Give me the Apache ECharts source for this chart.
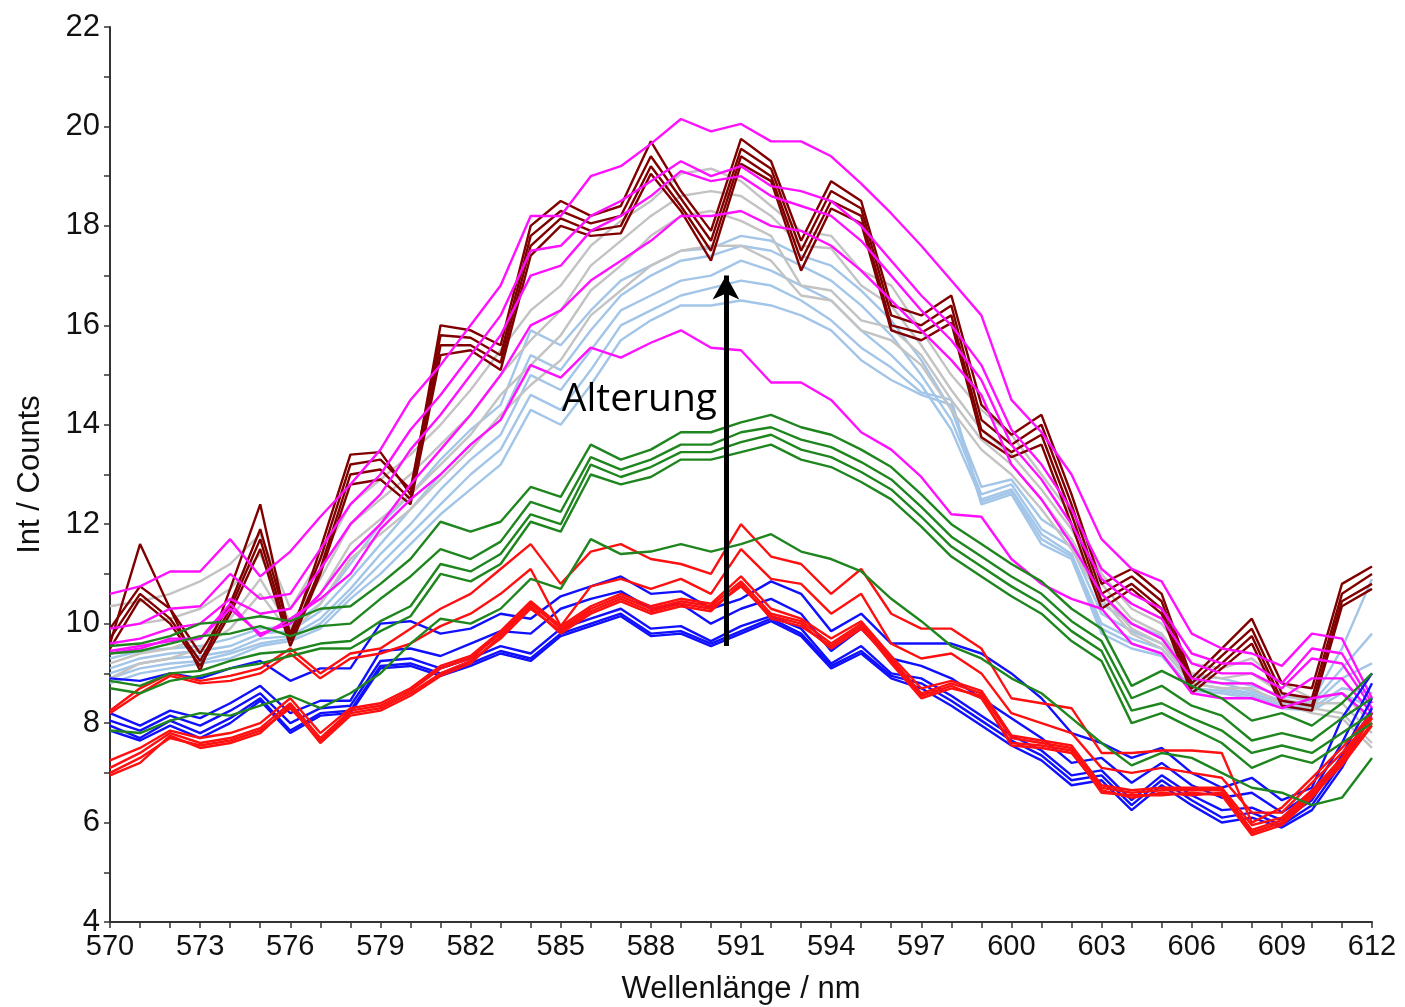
<!DOCTYPE html>
<html>
<head>
<meta charset="utf-8">
<title>Alterung</title>
<script src="https://cdn.jsdelivr.net/npm/echarts@6/dist/echarts.min.js"></script>
<style>
  html, body { margin: 0; padding: 0; background: #fff; }
  #chart { width: 1405px; height: 1007px; }
</style>
</head>
<body>
<div id="chart"></div>
<script>
  // wavelengths 570..612 nm, one value per nm
  const wavelengths = [
    570, 571, 572, 573, 574, 575, 576, 577, 578, 579, 580,
    581, 582, 583, 584, 585, 586, 587, 588, 589, 590,
    591, 592, 593, 594, 595, 596, 597, 598, 599, 600,
    601, 602, 603, 604, 605, 606, 607, 608, 609, 610, 611, 612
  ];

  const blue1 = [8.9, 8.85, 9.0, 8.9, 9.1, 9.25, 8.85, 9.1, 9.1, 10.0, 10.05,
    9.8, 9.9, 10.2, 10.1, 10.55, 10.75, 10.95, 10.6, 10.65, 10.3,
    10.5, 10.85, 10.6, 9.85, 10.2, 9.6, 9.6, 9.6, 9.4, 9.0,
    8.5, 7.8, 7.6, 7.3, 7.5, 7.0, 6.7, 6.9, 6.45, 6.7, 8.1, 9.0];
  const blue2 = [8.2, 7.95, 8.25, 8.1, 8.4, 8.75, 8.2, 8.45, 8.45, 9.45, 9.5,
    9.35, 9.6, 9.85, 9.8, 10.3, 10.5, 10.65, 10.3, 10.4, 10.0,
    10.3, 10.5, 10.2, 9.45, 9.9, 9.3, 9.15, 8.9, 8.5, 8.1,
    7.7, 7.2, 7.3, 6.8, 7.2, 6.75, 6.5, 6.6, 6.2, 6.6, 7.6, 8.8];
  const blue3 = [8.05, 7.85, 8.15, 7.95, 8.25, 8.6, 8.0, 8.3, 8.35, 9.25, 9.3,
    9.1, 9.3, 9.55, 9.4, 9.9, 10.1, 10.3, 9.9, 9.95, 9.65,
    9.95, 10.15, 9.9, 9.2, 9.55, 9.0, 8.9, 8.55, 8.15, 7.75,
    7.45, 6.95, 7.05, 6.45, 6.95, 6.55, 6.25, 6.3, 6.05, 6.45, 7.35, 8.5];
  const blue4 = [7.95, 7.7, 8.05, 7.8, 8.1, 8.5, 7.85, 8.2, 8.25, 9.15, 9.2,
    9.0, 9.2, 9.45, 9.3, 9.8, 10.0, 10.2, 9.8, 9.85, 9.6,
    9.85, 10.1, 9.8, 9.15, 9.45, 8.95, 8.8, 8.45, 8.05, 7.65,
    7.35, 6.85, 6.95, 6.35, 6.85, 6.45, 6.1, 6.2, 5.95, 6.35, 7.2, 8.3];
  const blue5 = [7.85, 7.65, 7.95, 7.7, 8.0, 8.45, 7.8, 8.15, 8.2, 9.1, 9.15,
    8.95, 9.15, 9.4, 9.25, 9.75, 9.95, 10.15, 9.75, 9.8, 9.55,
    9.8, 10.05, 9.75, 9.1, 9.4, 8.9, 8.7, 8.35, 7.95, 7.55,
    7.25, 6.75, 6.85, 6.25, 6.75, 6.35, 6.0, 6.1, 5.9, 6.25, 7.1, 8.2];

  const red1 = [8.25, 8.7, 9.0, 8.85, 8.95, 9.1, 9.5, 9.0, 9.4, 9.5, 9.9,
    10.3, 10.6, 11.1, 11.6, 10.8, 11.45, 11.6, 11.3, 11.2, 11.0,
    12.0, 11.35, 11.2, 10.6, 11.1, 10.2, 9.9, 9.9, 9.5, 8.5,
    8.4, 8.3, 7.4, 7.4, 7.45, 7.45, 7.4, 6.0, 6.3, 6.9, 7.5, 8.2];
  const red2 = [8.2, 8.6, 8.95, 8.8, 8.85, 9.0, 9.4, 8.9, 9.3, 9.4, 9.6,
    9.95, 10.2, 10.6, 11.1, 9.95, 10.75, 10.9, 10.7, 10.9, 10.6,
    11.5, 10.9, 10.8, 10.2, 10.6, 9.6, 9.3, 9.4, 9.0, 8.2,
    8.0, 7.8, 7.1, 7.0, 7.1, 7.0, 6.9, 6.2, 6.2, 6.8, 7.4, 8.1];
  const red3 = [7.25, 7.5, 7.85, 7.7, 7.8, 8.0, 8.5, 7.8, 8.3, 8.4, 8.7,
    9.15, 9.35, 9.85, 10.45, 9.95, 10.35, 10.6, 10.35, 10.5, 10.4,
    10.95, 10.3, 10.1, 9.7, 10.05, 9.35, 8.7, 8.85, 8.65, 7.75,
    7.65, 7.55, 6.75, 6.65, 6.7, 6.7, 6.7, 5.95, 6.1, 6.65, 7.3, 8.2];
  const red4 = [7.1, 7.4, 7.8, 7.6, 7.7, 7.9, 8.4, 7.7, 8.25, 8.35, 8.65,
    9.1, 9.3, 9.8, 10.4, 9.9, 10.3, 10.55, 10.3, 10.45, 10.35,
    10.85, 10.2, 10.05, 9.6, 10.0, 9.3, 8.6, 8.8, 8.6, 7.7,
    7.6, 7.5, 6.7, 6.6, 6.65, 6.65, 6.65, 5.85, 6.05, 6.6, 7.25, 8.1];
  const red5 = [7.0, 7.3, 7.7, 7.55, 7.65, 7.85, 8.3, 7.65, 8.2, 8.3, 8.6,
    9.0, 9.25, 9.7, 10.3, 9.85, 10.25, 10.5, 10.25, 10.4, 10.3,
    10.75, 10.15, 10.0, 9.5, 9.9, 9.25, 8.55, 8.75, 8.5, 7.6,
    7.55, 7.45, 6.6, 6.55, 6.55, 6.6, 6.55, 5.75, 5.95, 6.5, 7.2, 8.0];
  const red6 = [6.95, 7.2, 7.75, 7.5, 7.6, 7.8, 8.35, 7.6, 8.15, 8.25, 8.55,
    8.95, 9.2, 9.75, 10.35, 9.8, 10.2, 10.45, 10.2, 10.35, 10.25,
    10.8, 10.1, 9.95, 9.55, 9.95, 9.2, 8.5, 8.7, 8.55, 7.55,
    7.5, 7.4, 6.65, 6.5, 6.6, 6.55, 6.6, 5.8, 6.0, 6.55, 7.15, 7.95];

  const green1 = [9.55, 9.6, 9.75, 10.0, 10.05, 10.15, 10.05, 10.3, 10.35, 10.8, 11.3,
    12.05, 11.85, 12.05, 12.75, 12.55, 13.6, 13.3, 13.5, 13.85, 13.85,
    14.05, 14.2, 13.95, 13.8, 13.5, 13.15, 12.6, 12.0, 11.6, 11.2,
    10.85, 10.3, 9.9, 8.75, 9.05, 8.75, 8.5, 8.05, 8.2, 7.95, 8.4, 9.0];
  const green2 = [9.4, 9.45, 9.6, 9.75, 9.8, 9.95, 9.75, 9.95, 10.0, 10.5, 10.95,
    11.5, 11.3, 11.65, 12.45, 12.25, 13.35, 13.1, 13.3, 13.6, 13.6,
    13.85, 13.95, 13.7, 13.55, 13.25, 12.9, 12.35, 11.75, 11.35, 10.95,
    10.6, 10.05, 9.65, 8.5, 8.75, 8.35, 8.15, 7.65, 7.8, 7.65, 8.1, 8.5];
  const green3 = [8.85, 8.75, 9.0, 9.05, 9.25, 9.4, 9.45, 9.6, 9.65, 10.05, 10.35,
    11.2, 11.05, 11.4, 12.2, 12.0, 13.2, 12.95, 13.15, 13.45, 13.45,
    13.65, 13.8, 13.5, 13.35, 13.05, 12.7, 12.15, 11.55, 11.15, 10.75,
    10.4, 9.85, 9.45, 8.25, 8.4, 8.1, 7.85, 7.4, 7.55, 7.4, 7.8, 8.2];
  const green4 = [8.7, 8.6, 8.85, 8.95, 9.1, 9.2, 9.35, 9.5, 9.5, 9.85, 10.15,
    11.0, 10.85, 11.2, 12.05, 11.85, 13.0, 12.8, 12.95, 13.3, 13.3,
    13.45, 13.6, 13.3, 13.15, 12.85, 12.5, 11.95, 11.35, 10.95, 10.55,
    10.2, 9.65, 9.25, 8.0, 8.2, 7.9, 7.6, 7.1, 7.35, 7.2, 7.6, 8.0];
  const green5 = [7.85, 7.8, 8.05, 8.2, 8.15, 8.35, 8.55, 8.3, 8.6, 9.0, 9.6,
    10.1, 10.0, 10.3, 10.9, 10.7, 11.7, 11.4, 11.45, 11.6, 11.45,
    11.6, 11.8, 11.45, 11.3, 11.05, 10.5, 10.05, 9.55, 9.3, 8.9,
    8.6, 8.1, 7.6, 7.15, 7.4, 7.3, 7.0, 6.7, 6.6, 6.35, 6.5, 7.3];

  const lightblue1 = [9.3, 9.45, 9.5, 9.55, 9.7, 9.9, 9.95, 10.4, 11.2, 12.0, 12.6,
    13.3, 13.9, 14.4, 15.9, 15.6, 16.3, 16.9, 17.2, 17.5, 17.55,
    17.8, 17.7, 17.4, 17.2, 16.7, 16.1, 15.3, 14.3, 12.75, 12.9,
    12.1, 11.7, 10.4, 10.0, 9.75, 8.95, 8.9, 8.75, 8.55, 8.45, 9.5, 10.9];
  const lightblue2 = [9.1, 9.3, 9.4, 9.45, 9.55, 9.8, 9.85, 10.25, 10.9, 11.6, 12.3,
    13.0, 13.6, 14.1, 15.4, 15.1, 15.9, 16.6, 17.0, 17.3, 17.4,
    17.6, 17.5, 17.2, 16.9, 16.4, 15.8, 15.0, 14.1, 12.6, 12.8,
    11.9, 11.55, 10.2, 9.85, 9.6, 8.85, 8.8, 8.65, 8.45, 8.4, 9.1, 9.8];
  const lightblue3 = [9.0, 9.2, 9.3, 9.35, 9.45, 9.7, 9.75, 10.1, 10.7, 11.4, 12.0,
    12.7, 13.3, 13.8, 15.0, 14.7, 15.5, 16.3, 16.6, 16.9, 17.0,
    17.3, 17.1, 16.8, 16.5, 15.9, 15.4, 14.8, 13.9, 12.5, 12.7,
    11.8, 11.4, 10.0, 9.7, 9.5, 8.8, 8.7, 8.6, 8.4, 8.35, 8.9, 9.2];
  const lightblue4 = [8.9, 9.1, 9.2, 9.25, 9.4, 9.6, 9.7, 10.0, 10.6, 11.2, 11.8,
    12.4, 13.0, 13.5, 14.6, 14.3, 15.1, 16.0, 16.3, 16.6, 16.75,
    16.9, 16.8, 16.5, 16.1, 15.55, 15.15, 14.65, 14.5, 12.45, 12.65,
    11.7, 11.35, 9.9, 9.6, 9.4, 8.7, 8.65, 8.55, 8.35, 8.3, 8.7, 8.6];
  const lightblue5 = [8.8, 9.0, 9.1, 9.2, 9.3, 9.55, 9.65, 9.9, 10.5, 11.0, 11.6,
    12.2, 12.7, 13.2, 14.3, 14.0, 14.8, 15.7, 16.1, 16.4, 16.4,
    16.5, 16.4, 16.2, 15.9, 15.3, 14.9, 14.6, 14.4, 12.4, 12.6,
    11.6, 11.3, 9.8, 9.5, 9.35, 8.65, 8.6, 8.5, 8.3, 8.25, 8.6, 8.3];

  const gray1 = [10.35, 10.45, 10.6, 10.85, 11.2, 11.8, 10.3, 11.3, 12.4, 12.9, 13.4,
    14.0, 14.7, 15.5, 16.3, 16.8, 17.6, 18.1, 18.5, 19.05, 19.15,
    18.9, 18.4, 17.9, 17.8, 17.1, 16.8, 15.9, 15.0, 14.3, 13.8,
    13.0, 12.2, 11.0, 10.3, 10.0, 9.2, 9.1, 9.3, 8.8, 8.5, 8.6, 8.0];
  const gray2 = [9.9, 10.0, 10.1, 10.3, 10.7, 11.4, 10.0, 10.9, 12.0, 12.5, 13.0,
    13.6, 14.2, 15.0, 15.7, 16.3, 17.2, 17.7, 18.2, 18.6, 18.7,
    18.6, 18.2, 17.6, 17.55, 16.8, 16.4, 15.6, 14.7, 13.9, 13.4,
    12.7, 11.9, 10.8, 10.1, 9.8, 9.0, 8.9, 9.0, 8.6, 8.4, 8.4, 7.8];
  const gray3 = [9.2, 9.4, 9.5, 9.7, 10.1, 10.9, 9.9, 10.6, 11.6, 12.1, 12.6,
    13.2, 13.8, 14.6, 15.2, 15.8, 16.7, 17.2, 17.8, 18.2, 18.3,
    18.1, 17.8, 16.8, 16.7, 16.1, 15.95, 15.4, 14.5, 13.7, 13.2,
    12.5, 11.7, 10.6, 9.9, 9.6, 8.9, 8.8, 8.8, 8.5, 8.3, 8.2, 7.6];
  const gray4 = [8.9, 9.2, 9.3, 9.5, 9.9, 10.6, 9.8, 10.4, 11.3, 11.8, 12.3,
    12.9, 13.5, 14.2, 14.8, 15.3, 16.2, 16.7, 17.2, 17.5, 17.6,
    17.6, 17.3, 16.6, 16.5, 15.9, 15.7, 15.2, 14.3, 13.5, 13.0,
    12.3, 11.5, 10.5, 9.8, 9.5, 8.8, 8.7, 8.7, 8.4, 8.2, 8.1, 7.5];

  const darkred1 = [9.6, 11.6, 10.3, 9.05, 10.7, 12.4, 9.7, 11.5, 13.4, 13.45, 12.6,
    16.0, 15.9, 15.6, 18.0, 18.5, 18.2, 18.4, 19.7, 18.7, 17.9,
    19.75, 19.3, 17.7, 18.9, 18.5, 16.4, 16.2, 16.6, 14.4, 13.8,
    14.2, 12.6, 10.8, 11.1, 10.6, 8.9, 9.5, 10.1, 8.8, 8.7, 10.8, 11.15];
  const darkred2 = [9.9, 10.75, 10.3, 9.4, 10.4, 11.9, 9.8, 11.3, 13.2, 13.3, 12.7,
    15.8, 15.75, 15.4, 17.8, 18.3, 18.05, 18.2, 19.4, 18.55, 17.7,
    19.55, 19.15, 17.5, 18.7, 18.35, 16.2, 16.0, 16.4, 14.1, 13.6,
    14.0, 12.4, 10.6, 10.95, 10.45, 8.8, 9.35, 9.9, 8.6, 8.5, 10.6, 11.0];
  const darkred3 = [9.7, 10.6, 10.1, 9.25, 10.3, 11.7, 9.65, 11.1, 13.0, 13.1, 12.5,
    15.6, 15.6, 15.25, 17.6, 18.15, 17.9, 18.0, 19.2, 18.4, 17.5,
    19.4, 19.0, 17.3, 18.5, 18.2, 16.0, 15.85, 16.2, 13.9, 13.45,
    13.8, 12.2, 10.45, 10.8, 10.3, 8.7, 9.2, 9.75, 8.45, 8.35, 10.45, 10.8];
  const darkred4 = [9.5, 10.5, 10.0, 9.15, 10.2, 11.5, 9.55, 11.0, 12.8, 12.9, 12.4,
    15.4, 15.5, 15.1, 17.4, 18.0, 17.8, 17.85, 19.05, 18.3, 17.3,
    19.25, 18.9, 17.1, 18.35, 18.05, 15.9, 15.7, 16.05, 13.75, 13.35,
    13.6, 12.0, 10.3, 10.7, 10.2, 8.6, 9.1, 9.6, 8.35, 8.25, 10.35, 10.7];

  const magenta1 = [10.6, 10.75, 11.05, 11.05, 11.7, 10.95, 11.45, 12.15, 12.8, 13.5, 14.5,
    15.2, 16.0, 16.8, 18.2, 18.2, 19.0, 19.2, 19.65, 20.15, 19.9,
    20.05, 19.7, 19.7, 19.4, 18.85, 18.25, 17.6, 16.9, 16.2, 14.5,
    13.85, 13.0, 11.7, 11.1, 10.85, 9.8, 9.5, 9.4, 9.15, 9.8, 9.7, 8.5];
  const magenta2 = [9.9, 10.0, 10.3, 10.35, 11.0, 10.5, 10.6, 11.5, 12.4, 13.0, 13.9,
    14.6, 15.4, 16.2, 17.5, 17.6, 18.2, 18.5, 18.9, 19.3, 19.0,
    19.2, 18.8, 18.7, 18.5, 18.0, 17.3, 16.6, 16.0, 15.2, 13.9,
    13.2, 12.3, 11.1, 10.6, 10.3, 9.4, 9.2, 9.2, 8.8, 9.5, 9.4, 8.4];
  const magenta3 = [9.6, 9.7, 9.9, 10.0, 10.5, 10.2, 10.3, 11.1, 12.0, 12.6, 13.5,
    14.2, 15.0, 15.8, 17.0, 17.2, 17.9, 18.2, 18.6, 19.1, 18.9,
    19.0, 18.6, 18.4, 18.2, 17.7, 17.0, 16.3, 15.7, 14.9, 13.6,
    12.9, 12.0, 10.9, 10.4, 10.1, 9.2, 9.0, 9.0, 8.7, 9.3, 9.2, 8.3];
  const magenta4 = [9.4, 9.5, 9.7, 9.7, 10.3, 9.8, 10.0, 10.6, 11.4, 12.0, 12.8,
    13.5, 14.2, 15.0, 16.0, 16.3, 16.9, 17.3, 17.7, 18.2, 18.2,
    18.3, 18.0, 17.9, 17.6, 17.1, 16.5, 15.9, 15.3, 14.6, 13.2,
    12.5, 11.6, 10.6, 10.0, 9.7, 8.9, 8.8, 8.8, 8.5, 8.9, 8.9, 8.2];
  const magenta5 = [9.45, 9.55, 9.65, 9.7, 10.4, 9.75, 10.1, 10.5, 11.0, 11.9, 12.5,
    13.0, 13.6, 14.1, 15.2, 14.95, 15.55, 15.35, 15.65, 15.9, 15.55,
    15.5, 14.85, 14.85, 14.5, 13.85, 13.5, 12.95, 12.2, 12.15, 11.3,
    10.8, 10.5, 10.3, 9.6, 9.4, 8.6, 8.5, 8.5, 8.3, 8.5, 8.6, 8.1];

  const xTicks = { min: 570, max: 612, interval: 3 };
  const yTicks = { min: 4, max: 22, interval: 2 };
  // arrow "Alterung" in data units
  const arrowX = 590.5;
  const arrowFrom = 9.55;
  const arrowTo = 17.0;
  const arrowLabel = 'Alterung';
  const arrowLabelY = 14.5;

  const groups = [
    { color: '#a3c6e8', lines: [lightblue1, lightblue2, lightblue3, lightblue4, lightblue5] },
    { color: '#c3c3c3', lines: [gray1, gray2, gray3, gray4] },
    { color: '#800000', lines: [darkred1, darkred2, darkred3, darkred4] },
    { color: '#ff10ff', lines: [magenta1, magenta2, magenta3, magenta4, magenta5] },
    { color: '#1010ff', lines: [blue1, blue2, blue3, blue4, blue5] },
    { color: '#ff1010', lines: [red1, red2, red3, red4, red5, red6] },
    { color: '#1f861f', lines: [green1, green2, green3, green4, green5] }
  ];

  const series = [];
  groups.forEach(g => {
    g.lines.forEach(vals => {
      series.push({
        type: 'line',
        data: wavelengths.map((w, i) => [w, vals[i]]),
        showSymbol: false,
        symbol: 'none',
        lineStyle: { color: g.color, width: 2.4 },
        itemStyle: { color: g.color },
        silent: true,
        z: 2
      });
    });
  });

  // arrow as a markLine on an extra empty line series
  series.push({
    type: 'line',
    data: [],
    silent: true,
    z: 5,
    markLine: {
      silent: true,
      symbol: ['none', 'arrow'],
      symbolSize: [20, 24],
      label: { show: false },
      lineStyle: { color: '#000', width: 5, type: 'solid' },
      data: [[{ coord: [arrowX, arrowFrom] }, { coord: [arrowX, arrowTo] }]]
    }
  });

  const axisFont = 'Liberation Sans, Arial, sans-serif';

  const chart = echarts.init(document.getElementById('chart'));
  chart.setOption({
    animation: false,
    backgroundColor: '#fff',
    grid: { left: 110, right: 33, top: 27, bottom: 85, containLabel: false, outerBoundsMode: 'none' },
    xAxis: {
      type: 'value',
      min: xTicks.min,
      max: xTicks.max,
      interval: xTicks.interval,
      name: 'Wellenlänge / nm',
      nameLocation: 'middle',
      nameGap: 52,
      nameTextStyle: { fontFamily: axisFont, fontSize: 31, color: '#111' },
      axisLine: { show: true, onZero: false, lineStyle: { color: '#333', width: 2 } },
      axisTick: { show: true, inside: false, length: 6, lineStyle: { color: '#333', width: 1.5 } },
      minorTick: { show: true, splitNumber: 3, length: 6, lineStyle: { color: '#333', width: 1.5 } },
      axisLabel: { fontFamily: axisFont, fontSize: 29, color: '#111', margin: 10 },
      splitLine: { show: false }
    },
    yAxis: {
      type: 'value',
      min: yTicks.min,
      max: yTicks.max,
      interval: yTicks.interval,
      name: 'Int / Counts',
      nameLocation: 'middle',
      nameRotate: 90,
      nameGap: 64,
      nameTextStyle: { fontFamily: axisFont, fontSize: 31, color: '#111' },
      axisLine: { show: true, onZero: false, lineStyle: { color: '#333', width: 2 } },
      axisTick: { show: true, inside: false, length: 6, lineStyle: { color: '#333', width: 1.5 } },
      minorTick: { show: true, splitNumber: 2, length: 6, lineStyle: { color: '#333', width: 1.5 } },
      axisLabel: { fontFamily: axisFont, fontSize: 31, color: '#111', margin: 10 },
      splitLine: { show: false }
    },
    series: series
  });

  // text next to the arrow, placed through the grid's own scale
  const pos = chart.convertToPixel({ gridIndex: 0 }, [arrowX, arrowLabelY]);
  chart.setOption({
    graphic: [{
      type: 'text',
      x: pos[0] - 9,
      y: pos[1],
      z: 10,
      style: {
        text: arrowLabel,
        fontFamily: 'Open Sans, Noto Sans, sans-serif',
        fontSize: 39,
        fill: '#000',
        align: 'right',
        verticalAlign: 'middle'
      }
    }]
  });
</script>
</body>
</html>
